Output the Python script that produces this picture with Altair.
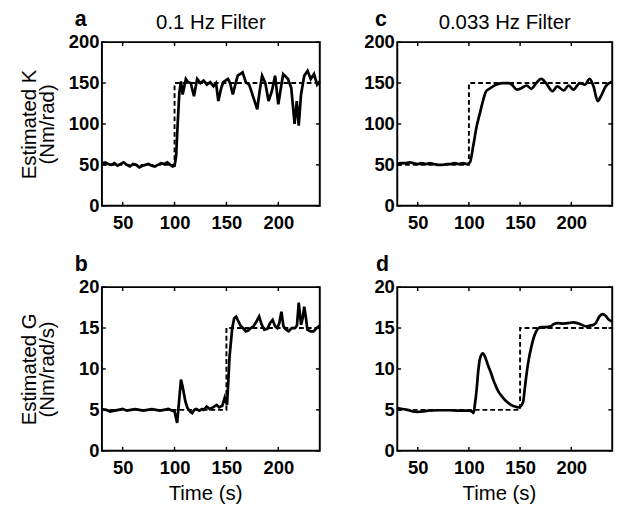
import altair as alt
import pandas as pd

FONT = "Liberation Sans"

X_DOMAIN = [30, 240]
X_TICKS = [50, 100, 150, 200]
K_TICKS = [0, 50, 100, 150, 200]
G_TICKS = [0, 5, 10, 15, 20]

# true (reference) stiffness / damping steps
K_REF_T = [30, 100, 100, 240]
K_REF_V = [50, 50, 150, 150]
G_REF_T = [30, 150, 150, 240]
G_REF_V = [5, 5, 15, 15]

# panel a: estimated K, 0.1 Hz filter
A_T = [30, 33, 36, 39, 42, 45, 48, 51, 54, 57, 60, 63, 66, 69, 72, 75, 78, 81, 84, 87,
       90, 93, 96, 98, 100, 101.5, 103, 104.6, 106.2, 107.8, 110.9, 113, 115.6, 118.7, 121.8,
       125, 128, 131.2, 134.4, 137.5, 140, 142.2, 145, 146.9, 151.5, 153.5, 156.2, 158.5, 160.9,
       165.6, 168.7, 171.9, 176.6, 179.7, 182, 184.4, 187.5, 190.6, 193.8, 196.9, 200, 202.5,
       204.7, 209.4, 212.5, 215.7, 217.8, 219.7, 221.9, 225, 228.2, 231.3, 234.4, 237.5, 240]
A_V = [52, 53, 51, 50, 52, 49, 51, 53, 50, 48, 51, 50, 47, 49, 50, 51, 49, 48, 50, 52,
       51, 53, 50, 48, 49, 60, 100, 138, 152, 136, 155, 151, 150, 134, 155,
       150, 153, 148, 151, 146, 150, 128, 144, 151, 155, 150, 136, 148, 159,
       163, 151, 148, 130, 118, 140, 159, 150, 128, 140, 159, 124, 144,
       161, 155, 144, 100, 128, 98, 136, 159, 165, 155, 161, 148, 152]

# panel c: estimated K, 0.033 Hz filter
C_T = [30, 34, 38, 42, 46, 50, 54, 58, 62, 66, 70, 74, 78, 82, 86, 90, 94, 98,
       101, 104.2, 107.4, 110.5, 113.7, 116.8, 120, 126.3, 132.6, 139, 142, 146.8,
       151.6, 156.3, 161, 165.8, 170.5, 175.3, 181.6, 186.3, 192.6, 197.4,
       202.1, 208.4, 213.2, 217.9, 221.7, 225.8, 229, 233.7, 240]
C_V = [51, 52, 52, 53, 52, 51, 52, 51, 52, 51, 50, 50, 51, 51, 52, 51, 52, 51,
       53, 73, 96, 112, 128, 140, 143, 148, 150, 150, 148, 142,
       144, 147, 143, 150, 155, 150, 140, 146, 141, 147,
       142, 150, 148, 155, 146, 128, 134, 146, 152]

# panel b: estimated G, 0.1 Hz filter
B_T = [30, 34, 38, 42, 46, 50, 54, 58, 62, 66, 70, 74, 78, 82, 86, 90, 94, 98,
       100, 102.5, 104.6, 106.2, 107.5, 108.7, 110.5, 112.5, 115, 117,
       119, 121, 124, 126.5, 128, 131, 134, 137, 140.6, 143,
       146, 148.4, 150.6, 152, 153, 155.6, 157.5, 159.4, 161.5, 164,
       166, 168.7, 171, 173.5, 176, 179, 181.5, 184, 186.5, 189.5,
       192, 194.5, 197, 199, 201, 203, 205, 207.5, 210, 213,
       216, 218, 219.7, 221, 222, 223.5, 225, 226.5, 228, 231,
       234, 237, 240]
B_V = [5.1, 5.0, 4.8, 4.9, 5.0, 5.1, 4.9, 5.0, 5.1, 5.0, 4.9, 5.0, 5.1, 5.0, 4.9, 5.0, 5.1, 4.9,
       4.8, 3.4, 6.4, 8.7, 8.0, 7.2, 6.0, 5.2, 4.8, 4.6,
       5.0, 5.1, 4.9, 5.1, 5.0, 5.4, 5.1, 5.3, 5.6, 5.3,
       5.5, 6.5, 5.6, 9.0, 11.5, 15.0, 16.2, 16.4, 15.8, 15.2,
       15.0, 14.6, 14.7, 15.0, 15.2, 15.8, 16.4, 15.4, 14.8, 14.9,
       15.6, 16.0, 15.2, 15.0, 15.6, 17.0, 15.2, 14.8, 14.6, 15.0,
       15.0, 15.3, 18.1, 16.5, 15.4, 16.2, 17.6, 16.4, 14.8, 14.6,
       14.6, 15.0, 15.3]

# panel d: estimated G, 0.033 Hz filter
D_T = [30, 35, 40, 45, 50, 55, 60, 70, 80, 90,
       100, 103, 104.5, 106, 107.5, 109, 110.5, 112, 113.7, 116,
       118.5, 121.6, 124, 126.3, 129, 132.6, 136, 139, 142, 145,
       148, 150, 151.5, 153, 154.5, 156, 158.5, 161, 163.5, 165.8,
       168, 170.5, 175, 180, 183, 187, 192, 197, 202, 206,
       210, 214.7, 218, 221, 224, 227.4, 230.5, 233.5, 236.8, 240]
D_V = [5.2, 5.1, 5.0, 4.8, 4.75, 4.8, 4.9, 4.95, 4.95, 4.9,
       4.9, 4.8, 4.6, 5.8, 7.4, 9.6, 11.1, 11.7, 11.9, 11.4,
       10.5, 9.5, 8.6, 7.9, 7.2, 6.6, 6.1, 5.8, 5.55, 5.4,
       5.3, 5.4, 5.6, 6.0, 7.5, 9.1, 11.2, 12.7, 13.9, 14.6,
       15.0, 15.1, 15.1, 15.2, 15.5, 15.6, 15.55, 15.6, 15.7, 15.6,
       15.4, 15.2, 15.3, 15.35, 15.6, 16.4, 16.7, 16.5, 16.0, 15.8]


def panel(t, v, ref_t, ref_v, ydom, yticks, letter, caption, ytitle, xtitle,
          W, H, letter_dx, interp):
    xs = alt.Scale(domain=X_DOMAIN, nice=False, zero=False)
    ys = alt.Scale(domain=ydom, nice=False, zero=False)
    if xtitle:
        xaxis = alt.Axis(values=X_TICKS, title=xtitle, labelBaseline="alphabetic",
                         labelPadding=24, titleBaseline="alphabetic", titleY=50,
                         titleX=W / 2 - 6)
    else:
        xaxis = alt.Axis(values=X_TICKS, title=None, labelBaseline="alphabetic",
                         labelPadding=24)
    if ytitle:
        yaxis = alt.Axis(values=yticks, title=ytitle, labelPadding=3,
                         titleX=-69, titleBaseline="alphabetic", titleLineHeight=19)
    else:
        yaxis = alt.Axis(values=yticks, title=None, labelPadding=3)
    X = alt.X("t:Q", scale=xs, axis=xaxis)
    Y = alt.Y("v:Q", scale=ys, axis=yaxis)

    est = pd.DataFrame({"t": t, "v": v, "i": list(range(len(t)))})
    ref = pd.DataFrame({"t": ref_t, "v": ref_v, "i": list(range(len(ref_t)))})
    xt = pd.DataFrame({"t": X_TICKS})
    yt = pd.DataFrame({"v": yticks})
    one = pd.DataFrame({"k": [0]})

    ref_line = alt.Chart(ref).mark_line(color="black", strokeWidth=2, strokeDash=[5, 3]).encode(
        x=X, y=Y, order="i:Q")
    est_line = alt.Chart(est).mark_line(color="black", strokeWidth=2.8, interpolate=interp).encode(
        x=X, y=Y, order="i:Q")
    tick_kw = dict(color="black", strokeWidth=1.5)
    t_top = alt.Chart(xt).mark_rule(**tick_kw).encode(x=X, y=alt.value(0), y2=alt.value(4))
    t_bot = alt.Chart(xt).mark_rule(**tick_kw).encode(x=X, y=alt.value(H), y2=alt.value(H - 4))
    t_lef = alt.Chart(yt).mark_rule(**tick_kw).encode(y=Y, x=alt.value(0), x2=alt.value(4))
    t_rig = alt.Chart(yt).mark_rule(**tick_kw).encode(y=Y, x=alt.value(W), x2=alt.value(W - 4))
    lab = alt.Chart(one).mark_text(text=letter, font=FONT, fontSize=22, fontWeight="bold",
                                   align="left", baseline="alphabetic", color="black").encode(
        x=alt.value(letter_dx), y=alt.value(-17))
    layers = [ref_line, est_line, t_top, t_bot, t_lef, t_rig, lab]
    if caption:
        cap = alt.Chart(one).mark_text(text=caption, font=FONT, fontSize=21,
                                       align="center", baseline="alphabetic", color="black").encode(
            x=alt.value(W / 2), y=alt.value(-14))
        layers.append(cap)
    return alt.layer(*layers).properties(width=W, height=H)


a = panel(A_T, A_V, K_REF_T, K_REF_V, [0, 200], K_TICKS, "a", "0.1 Hz Filter",
          ["Estimated K", "(Nm/rad)"], None, 225, 169, -28, "linear")
c = panel(C_T, C_V, K_REF_T, K_REF_V, [0, 200], K_TICKS, "c", "0.033 Hz Filter",
          None, None, 222, 169, -23, "monotone")
b = panel(B_T, B_V, G_REF_T, G_REF_V, [0, 20], G_TICKS, "b", None,
          ["Estimated G", "(Nm/rad/s)"], "Time (s)", 225, 169, -28, "linear")
d = panel(D_T, D_V, G_REF_T, G_REF_V, [0, 20], G_TICKS, "d", None,
          None, "Time (s)", 222, 169, -22, "monotone")

chart = alt.concat(a, c, b, d, columns=2, spacing={"row": 19, "column": 37}).properties(
    align="each",
    padding={"top": -9, "left": 9, "right": 0, "bottom": 0},
    background="white",
).configure_view(
    stroke="black", strokeWidth=2
).configure_axis(
    labelFont=FONT, labelFontSize=19, labelFontWeight="bold", labelColor="black",
    titleFont=FONT, titleFontSize=21, titleFontWeight="normal", titleColor="black",
    domain=False, ticks=False, tickSize=0, grid=False
)

chart.save("out.html", embed_options={"renderer": "svg", "actions": False})
